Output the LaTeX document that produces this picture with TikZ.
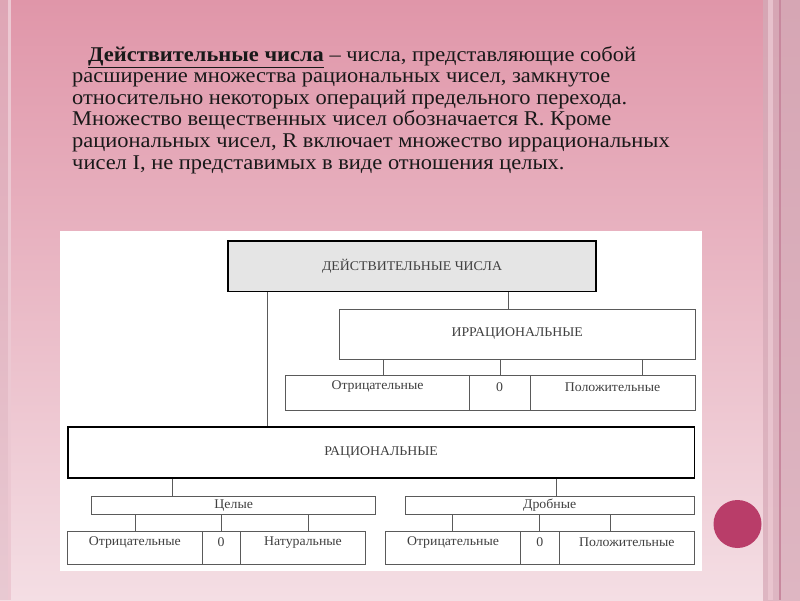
\documentclass[tikz,border=0pt]{standalone}
\usepackage{fontspec}
\setmainfont{Liberation Serif}
\newfontfamily\parafont[FakeStretch=1.07]{Liberation Serif}
\newfontfamily\lblfont[FakeStretch=1.04]{Liberation Serif}
\definecolor{bgtop}{RGB}{224,150,169}
\definecolor{bgmid}{RGB}{236,186,199}
\definecolor{bgbot}{RGB}{244,222,228}
\definecolor{stripA}{RGB}{214,166,180}
\definecolor{stripB}{RGB}{222,182,194}
\definecolor{stripL}{RGB}{236,200,210}
\definecolor{stripD}{RGB}{200,136,158}
\definecolor{dot}{RGB}{185,61,105}
\definecolor{gridline}{RGB}{90,90,90}
\definecolor{topfill}{RGB}{229,229,229}
\begin{document}
\begin{tikzpicture}[x=1pt,y=-1pt,
  cell/.style={draw=gridline, line width=0.9pt, inner sep=0pt, fill=white},
  bigbox/.style={draw=black, line width=1.9pt, inner sep=0pt, fill=white},
  link/.style={draw=gridline, line width=0.9pt},
  lbl/.style={font=\lblfont\fontsize{13.3}{15}\selectfont, text=black!75, inner sep=0pt},
  para/.style={anchor=base west, inner sep=0pt, font=\parafont\fontsize{21}{22}\selectfont, text=black!90}]
% background
\useasboundingbox (0,0) rectangle (800,600);
\shade[top color=bgtop, middle color=bgmid, bottom color=bgbot] (0,0) rectangle (800,600);
\fill[stripL] (7.5,0) rectangle (11,600);
\fill[stripB, opacity=0.5] (0,0) rectangle (7.5,600);
\shade[top color=stripA, bottom color=stripB] (763,0) rectangle (800,600);
\fill[stripL, opacity=0.8] (768,0) rectangle (772.5,600);
\fill[stripD] (779,0) rectangle (780.5,600);
% paragraph
\node[para] (l1) at (88,61) {\underline{\textbf{Действительные числа}} – числа, представляющие собой};
\node[para] (l2) at (72,82.6) {расширение множества рациональных чисел, замкнутое};
\node[para] (l3) at (72,104.2) {относительно некоторых операций предельного перехода.};
\node[para] (l4) at (72,125.8) {Множество вещественных чисел обозначается R. Кроме};
\node[para] (l5) at (72,147.4) {рациональных чисел, R включает множество иррациональных};
\node[para] (l6) at (72,169) {чисел I, не представимых в виде отношения целых.};
% white panel
\fill[white] (60,231) rectangle (702,571);
% boxes
\node[bigbox, fill=topfill, minimum width=367.4pt, minimum height=50.5pt] (real) at (412,266.2) {};
\node[cell, minimum width=355.7pt, minimum height=50pt] (irr) at (517.2,334) {};
\node[cell, minimum width=183.6pt, minimum height=34.3pt] (i1) at (377.5,392.85) {};
\node[cell, minimum width=60.7pt, minimum height=34.3pt] (i2) at (499.65,392.85) {};
\node[cell, minimum width=165pt, minimum height=34.3pt] (i3) at (612.5,392.85) {};
\node[bigbox, minimum width=626.8pt, minimum height=50.7pt] (rat) at (381.1,452.65) {};
\node[cell, minimum width=284pt, minimum height=18pt] (cel) at (233.7,505) {};
\node[cell, minimum width=289.3pt, minimum height=18pt] (dro) at (549.65,505) {};
\node[cell, minimum width=134.3pt, minimum height=32.8pt] (c1) at (134.85,547.9) {};
\node[cell, minimum width=38.3pt, minimum height=32.8pt] (c2) at (221.15,547.9) {};
\node[cell, minimum width=125.4pt, minimum height=32.8pt] (c3) at (303,547.9) {};
\node[cell, minimum width=134.6pt, minimum height=32.8pt] (d1) at (453,547.9) {};
\node[cell, minimum width=39pt, minimum height=32.8pt] (d2) at (539.8,547.9) {};
\node[cell, minimum width=135pt, minimum height=32.8pt] (d3) at (626.8,547.9) {};
% connectors
\draw[link] (real.south -| 508.3,0) -- (irr.north -| 508.3,0);
\draw[link] (real.south -| 267.3,0) -- (rat.north -| 267.3,0);
\draw[link] (irr.south -| 383,0) -- (i1.north -| 383,0);
\draw[link] (irr.south -| 500.7,0) -- (i2.north -| 500.7,0);
\draw[link] (irr.south -| 642.7,0) -- (i3.north -| 642.7,0);
\draw[link] (rat.south -| 172.3,0) -- (cel.north -| 172.3,0);
\draw[link] (rat.south -| 556,0) -- (dro.north -| 556,0);
\draw[link] (cel.south -| 135,0) -- (c1.north -| 135,0);
\draw[link] (cel.south -| 221.3,0) -- (c2.north -| 221.3,0);
\draw[link] (cel.south -| 308.3,0) -- (c3.north -| 308.3,0);
\draw[link] (dro.south -| 452.7,0) -- (d1.north -| 452.7,0);
\draw[link] (dro.south -| 539.3,0) -- (d2.north -| 539.3,0);
\draw[link] (dro.south -| 610,0) -- (d3.north -| 610,0);
% labels
\node[lbl] (treal) at (412,266.2) {ДЕЙСТВИТЕЛЬНЫЕ ЧИСЛА};
\node[lbl] (tirr) at (517.2,334) {ИРРАЦИОНАЛЬНЫЕ};
\node[lbl] (ti1) at (377.5,387) {Отрицательные};
\node[lbl] (ti2) at (499.65,387) {0};
\node[lbl] (ti3) at (612.5,387) {Положительные};
\node[lbl] (trat) at (381.1,452.65) {РАЦИОНАЛЬНЫЕ};
\node[lbl] (tcel) at (233.7,505.5) {Целые};
\node[lbl] (tdro) at (549.65,505.5) {Дробные};
\node[lbl] (tc1) at (134.85,542.5) {Отрицательные};
\node[lbl] (tc2) at (221.15,542.5) {0};
\node[lbl] (tc3) at (303,542.5) {Натуральные};
\node[lbl] (td1) at (453,542.5) {Отрицательные};
\node[lbl] (td2) at (539.8,542.5) {0};
\node[lbl] (td3) at (626.8,542.5) {Положительные};
% dot
\fill[dot] (737.5,524) circle (24);
\end{tikzpicture}
\end{document}
